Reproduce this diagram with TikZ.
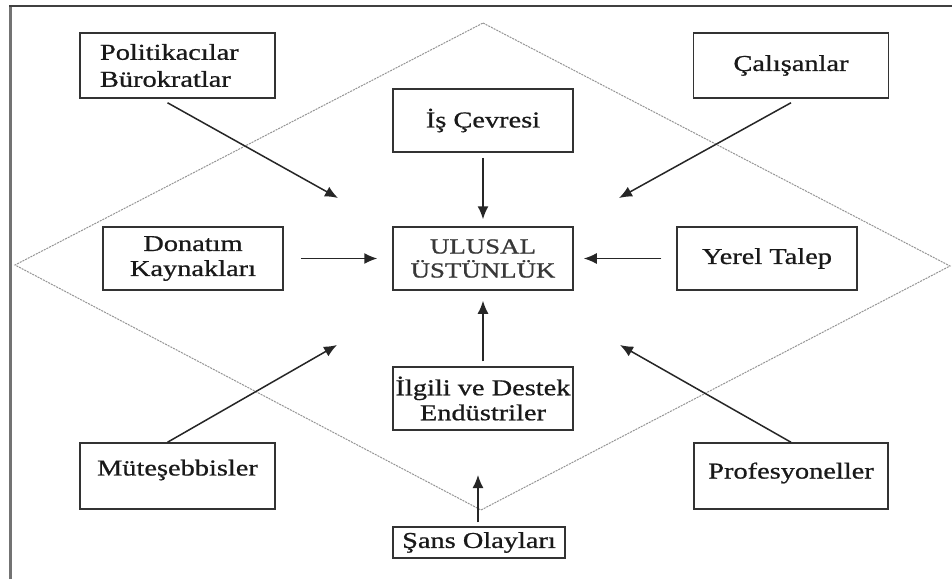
\documentclass[tikz,border=0pt]{standalone}
\usepackage{fontspec}
\setmainfont{Liberation Serif}[FakeStretch=1.25,FakeBold=0.8]
\usetikzlibrary{arrows.meta}
\definecolor{boxc}{gray}{0.2}
\definecolor{diac}{gray}{0.58}
\tikzset{
  box/.style={draw=boxc, line width=1.5pt, inner sep=1pt, text=black!90,
    font=\fontsize{22.7}{25}\selectfont, align=center},
  wide/.style={minimum width=195pt, minimum height=65pt},
  mid/.style={minimum width=180pt, minimum height=63pt},
  arr/.style={draw=black!85, line width=1.5pt, -{Latex[length=13pt,width=11pt]}},
  dia/.style={draw=diac, line width=1pt, dash pattern=on 2pt off 1pt},
}
\begin{document}
\begin{tikzpicture}[x=1pt,y=-1pt]
\useasboundingbox (0,0) rectangle (952,579);
\fill[white] (0,0) rectangle (952,579);
% frame
\draw[line width=3pt, black!55] (10,579) -- (10,6);
\draw[line width=2pt, black!75] (9,6) -- (952,6);
% diamond
\coordinate (dt) at (483,23);
\coordinate (dr) at (950,266);
\coordinate (db) at (481,510);
\coordinate (dl) at (15,265);
\draw[dia] (dt) -- (dr) -- (db) -- (dl) -- cycle;
% nodes
\node[box, wide, text width=155pt, align=left, font=\fontsize{22.7}{27}\selectfont] (pol) at (177.5,65.5) {Politikacılar\\Bürokratlar};
\node[box, wide] (cal) at (791,65.5) {Çalışanlar};
\node[box, mid] (is) at (483,120.5) {İş Çevresi};
\node[box, mid, text=black!78, font=\fontsize{21.5}{24}\selectfont] (ulu) at (483,258.5) {ULUSAL\\ÜSTÜNLÜK};
\node[box, mid] (don) at (193,258.5) {Donatım\\Kaynakları};
\node[box, mid] (yer) at (767,258.5) {Yerel Talep};
\node[box, mid] (ilg) at (483,398.5) {İlgili ve Destek\\Endüstriler};
\node[box, minimum width=195pt, minimum height=66pt] (mut) at (177.5,476) {\raisebox{0pt}[\height][\dimexpr\depth+12pt]{Müteşebbisler}};
\node[box, minimum width=194pt, minimum height=66pt] (pro) at (791,476) {\raisebox{0pt}[\height][\dimexpr\depth+6pt]{Profesyoneller}};
\node[box, minimum width=172pt, minimum height=31pt] (sans) at (479,542.5) {Şans Olayları};
% arrow tips
\coordinate (tpol) at (338,198);
\coordinate (tcal) at (619,198);
\coordinate (tmut) at (337,345);
\coordinate (tpro) at (620,345);
\coordinate (tsans) at (478,475);
% connectors
\draw[arr] ([xshift=-10pt,yshift=-4pt]pol.south) -- (tpol);
\draw[arr] ([yshift=-4pt]cal.south) -- (tcal);
\draw[arr] ([xshift=-10pt]mut.north) -- (tmut);
\draw[arr] (pro.north) -- (tpro);
\draw[arr, shorten <=5pt, shorten >=7pt] (is) -- (ulu);
\draw[arr, shorten <=5pt, shorten >=10pt] (ilg) -- (ulu);
\draw[arr, shorten <=17pt, shorten >=15pt] (don) -- (ulu);
\draw[arr, shorten <=15pt, shorten >=10pt] (yer) -- (ulu);
\draw[arr, shorten <=4pt] ([xshift=-1pt]sans.north) -- (tsans);
\end{tikzpicture}
\end{document}
